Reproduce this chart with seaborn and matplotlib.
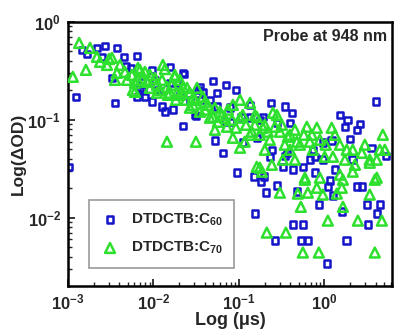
import pandas as pd
import numpy as np
import matplotlib
matplotlib.use('Agg')
import matplotlib.pyplot as plt
import seaborn as sns

# DTDCTB:C60 (blue squares), time in us, dOD
c60_t = [0.00146, 0.00167, 0.00218, 0.00271, 0.00374, 0.00452, 0.00250, 0.00641, 0.00545, 0.00327,
         0.00355, 0.00124, 0.00101, 0.00695, 0.00796, 0.00960, 0.0126, 0.0169, 0.0221, 0.0221,
         0.0306, 0.00641, 0.00733, 0.0156, 0.0228, 0.0497, 0.0705, 0.0922, 0.0350, 0.0379,
         0.0553, 0.0136, 0.0314, 0.237, 0.0686, 0.0806, 0.0524, 0.0650, 0.162, 0.191,
         0.243, 0.230, 0.278, 0.0948, 0.150, 0.196, 0.0156, 0.0204, 0.0458, 0.108,
         0.0785, 4.00, 0.345, 0.417, 0.395, 1.52, 1.88, 2.60, 1.74, 2.40,
         1.99, 1.22, 0.960, 0.733, 0.345, 0.561, 0.428, 0.327, 0.774, 1.33,
         2.15, 3.59, 5.24, 1.16, 1.10, 2.40, 2.75, 0.477, 1.26, 0.863,
         3.14, 4.46, 0.278, 1.60, 4.11, 0.428, 0.561, 3.23, 0.264, 0.531,
         0.641, 1.83, 1.07, 0.207, 0.181, 0.154, 0.00477, 0.0104, 0.0267, 0.135,
         0.774, 0.00754, 0.00960, 0.0113, 0.0188, 0.0331, 0.0553, 0.111, 0.135, 0.176,
         0.364, 0.0350, 0.676, 0.960]
c60_od = [0.518, 0.471, 0.543, 0.569, 0.543, 0.440, 0.440, 0.450, 0.339, 0.268,
          0.149, 0.172, 0.0331, 0.212, 0.172, 0.324, 0.136, 0.127, 0.0869, 0.302,
          0.112, 0.172, 0.244, 0.347, 0.295, 0.250, 0.228, 0.202, 0.217, 0.193,
          0.189, 0.121, 0.110, 0.149, 0.0954, 0.0954, 0.0611, 0.0460, 0.0655, 0.107,
          0.0494, 0.0419, 0.0932, 0.0288, 0.0262, 0.0262, 0.239, 0.180, 0.160, 0.107,
          0.133, 0.153, 0.136, 0.118, 0.0932, 0.112, 0.100, 0.0910, 0.0849, 0.0791,
          0.0640, 0.0611, 0.0583, 0.0494, 0.0429, 0.0331, 0.0309, 0.0331, 0.0419, 0.0309,
          0.0391, 0.0518, 0.0429, 0.0239, 0.0207, 0.0207, 0.0207, 0.0184, 0.0168, 0.0136,
          0.0136, 0.0136, 0.0212, 0.0115, 0.0110, 0.00849, 0.00849, 0.00849, 0.00583, 0.00583,
          0.00583, 0.00583, 0.00340, 0.0180, 0.0233, 0.0110, 0.356, 0.256, 0.160, 0.142,
          0.0288, 0.202, 0.153, 0.202, 0.239, 0.202, 0.136, 0.0583, 0.105, 0.100,
          0.0460, 0.160, 0.0391, 0.0391]

# DTDCTB:C70 (green triangles)
c70_t = [0.00135, 0.00181, 0.00218, 0.00237, 0.00286, 0.00327, 0.00162, 0.00114, 0.00374, 0.00406,
         0.00355, 0.00464, 0.00575, 0.00695, 0.00839, 0.0110, 0.0129, 0.0178, 0.0144, 0.0314,
         0.00490, 0.00608, 0.0247, 0.0204, 0.0110, 0.0156, 0.0290, 0.00302, 0.00659, 0.00733,
         0.00608, 0.0136, 0.0178, 0.0204, 0.0144, 0.0188, 0.0267, 0.0379, 0.0290, 0.0434,
         0.0497, 0.0600, 0.0851, 0.103, 0.135, 0.111, 0.162, 0.191, 0.142, 0.117,
         0.0851, 0.103, 0.230, 0.264, 0.278, 0.176, 0.243, 0.0724, 0.0524, 0.0221,
         0.0323, 0.250, 0.302, 0.374, 0.477, 0.624, 0.817, 0.676, 0.733, 1.22,
         1.33, 1.01, 1.26, 1.83, 2.15, 2.75, 3.40, 4.46, 4.84, 4.11,
         0.327, 0.452, 0.592, 0.886, 1.52, 2.15, 4.11, 0.302, 0.641, 0.960,
         1.60, 3.40, 0.531, 1.65, 0.490, 1.40, 1.10, 2.47, 4.71, 0.212,
         0.355, 0.561, 0.863, 3.90, 0.162, 0.186, 0.817, 1.65, 3.40, 3.90,
         0.592, 0.00910, 0.0400, 0.0686, 0.154, 0.345, 0.395, 0.201,
         0.00560, 0.00659, 0.00796, 0.00910, 0.0104, 0.0119, 0.0126, 0.0148, 0.0164, 0.0183,
         0.0215, 0.0240, 0.0267, 0.0306, 0.0350, 0.0400, 0.0458, 0.0524, 0.0568, 0.0632,
         0.0743, 0.0828, 0.0922, 0.103, 0.121, 0.135, 0.154, 0.176, 0.201, 0.218,
         0.318, 0.395, 0.452, 0.517, 0.576, 0.714, 0.886, 1.04, 1.52, 1.74,
         2.28, 2.98, 5.10]
c70_od = [0.610, 0.543, 0.440, 0.391, 0.364, 0.430, 0.324, 0.275, 0.302, 0.364,
          0.256, 0.309, 0.202, 0.324, 0.244, 0.228, 0.364, 0.275, 0.0597, 0.0597,
          0.256, 0.239, 0.212, 0.180, 0.189, 0.189, 0.168, 0.419, 0.339, 0.256,
          0.193, 0.330, 0.288, 0.256, 0.217, 0.189, 0.189, 0.172, 0.142, 0.142,
          0.107, 0.121, 0.142, 0.160, 0.149, 0.112, 0.107, 0.0829, 0.0755, 0.0597,
          0.0655, 0.0518, 0.0625, 0.0849, 0.112, 0.0324, 0.0347, 0.0849, 0.0791, 0.217,
          0.212, 0.118, 0.0755, 0.0671, 0.0597, 0.0849, 0.0829, 0.0597, 0.0494, 0.0829,
          0.0703, 0.0419, 0.0419, 0.0494, 0.0494, 0.0460, 0.0391, 0.0494, 0.0703, 0.0391,
          0.0391, 0.0391, 0.0256, 0.0256, 0.0275, 0.0295, 0.0256, 0.0180, 0.0180, 0.0172,
          0.0202, 0.0172, 0.0129, 0.0129, 0.0176, 0.0176, 0.00932, 0.00932, 0.00932, 0.00703,
          0.00703, 0.00440, 0.00440, 0.00440, 0.0331, 0.0295, 0.0202, 0.0244, 0.0364, 0.0244,
          0.0244, 0.288, 0.127, 0.105, 0.0889, 0.0556, 0.0494, 0.0494,
          0.288, 0.256, 0.309, 0.212, 0.268, 0.202, 0.256, 0.180, 0.228, 0.160,
          0.193, 0.160, 0.133, 0.160, 0.121, 0.153, 0.105, 0.133, 0.0954, 0.112,
          0.127, 0.100, 0.0829, 0.105, 0.0889, 0.0703, 0.112, 0.0703, 0.0889, 0.0755,
          0.0889, 0.0703, 0.0791, 0.0556, 0.0703, 0.0703, 0.0625, 0.0556, 0.0556, 0.0391,
          0.0347, 0.0556, 0.0494]

sns.set_style('white')
plt.rcParams['font.family'] = ['Liberation Sans', 'DejaVu Sans']
plt.rcParams['font.weight'] = 'bold'
plt.rcParams['mathtext.fontset'] = 'custom'
plt.rcParams['mathtext.rm'] = 'Liberation Sans:bold'
plt.rcParams['mathtext.bf'] = 'Liberation Sans:bold'
plt.rcParams['mathtext.it'] = 'Liberation Sans:bold:italic'
plt.rcParams['mathtext.default'] = 'bf'

fig = plt.figure(figsize=(3.94, 3.33), dpi=100)
ax = fig.add_axes([0.1726, 0.141, 0.8224, 0.793])

sns.scatterplot(x=c60_t, y=c60_od, ax=ax, marker='s', s=22, facecolors='none',
                edgecolor='#1414c8', linewidth=1.8, label='DTDCTB:C$_{60}$', zorder=2)
sns.scatterplot(x=c70_t, y=c70_od, ax=ax, marker='^', s=50, facecolors='none',
                edgecolor='#2ee02e', linewidth=1.8, label='DTDCTB:C$_{70}$', zorder=3)

ax.set_xscale('log')
ax.set_yscale('log')
ax.set_xlim(1e-3, 6.2)
ax.set_ylim(2.0e-3, 1.0)

for sp in ax.spines.values():
    sp.set_visible(True)
    sp.set_color('black')
    sp.set_linewidth(1.8)

ax.tick_params(which='major', direction='in', length=5, width=1.3, labelsize=12,
               bottom=True, left=True, top=False, right=False, pad=5)
ax.tick_params(which='minor', direction='in', length=3, width=1.0,
               bottom=True, left=True, top=False, right=False)
ax.xaxis.set_major_locator(matplotlib.ticker.LogLocator(base=10, numticks=10))
ax.xaxis.set_minor_locator(matplotlib.ticker.LogLocator(base=10, subs=np.arange(2, 10), numticks=20))
ax.yaxis.set_minor_locator(matplotlib.ticker.LogLocator(base=10, subs=np.arange(2, 10), numticks=20))

ax.set_xlabel('Log (\u03bcs)', fontsize=13, fontweight='bold', labelpad=-1)
ax.set_ylabel('Log(\u0394OD)', fontsize=12.5, fontweight='bold', labelpad=1)

ax.text(0.985, 0.975, 'Probe at 948 nm', transform=ax.transAxes, ha='right', va='top',
        fontsize=11.5, fontweight='bold')

leg = ax.legend(loc='lower left', bbox_to_anchor=(0.04, 0.04), fancybox=False,
                edgecolor='#999999', fontsize=11, framealpha=1, handletextpad=0.7,
                borderpad=0.75, labelspacing=0.8, handlelength=1.3)
leg.get_frame().set_linewidth(1.2)

plt.savefig('out.png', dpi=100)
